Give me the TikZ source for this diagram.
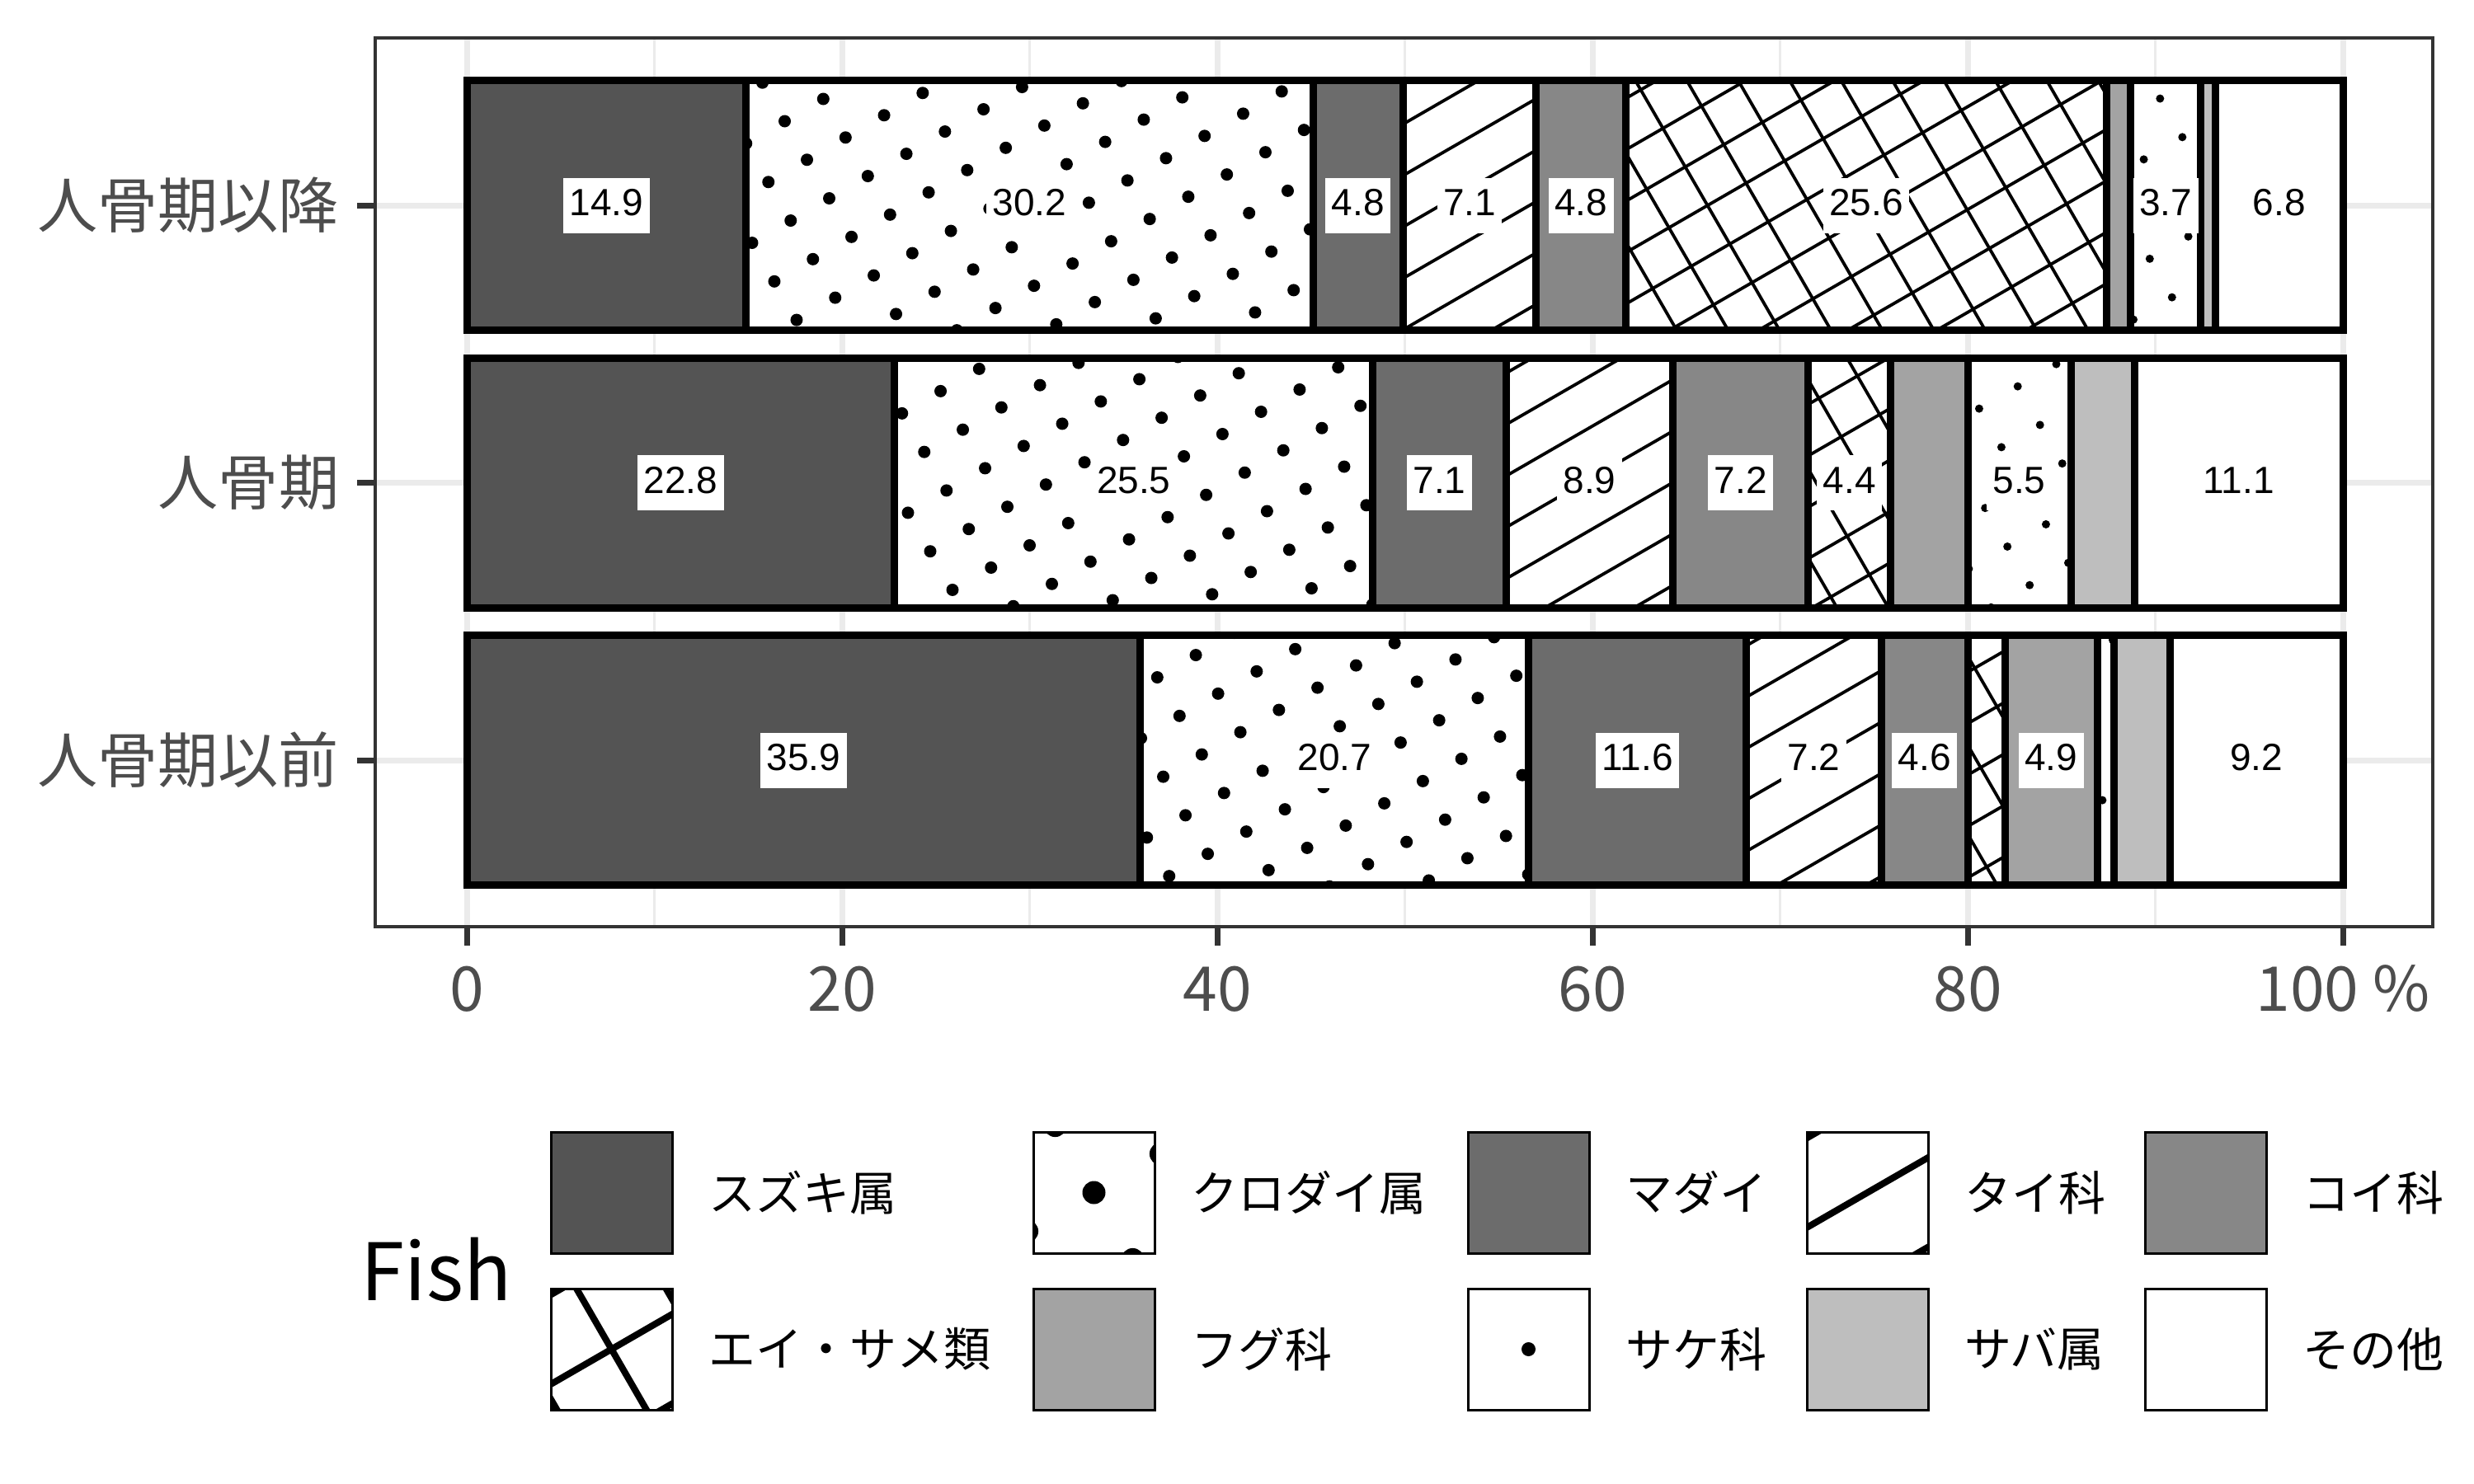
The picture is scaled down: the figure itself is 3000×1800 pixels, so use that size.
\documentclass[tikz,border=0pt]{standalone}
\usepackage{fontspec}
\newfontfamily\jpf{Noto Sans CJK JP}
\newfontfamily\labf{Liberation Sans}
\definecolor{cA}{HTML}{545454}
\definecolor{cC}{HTML}{6C6C6C}
\definecolor{cE}{HTML}{878787}
\definecolor{cG}{HTML}{A3A3A3}
\definecolor{cI}{HTML}{BEBEBE}
\definecolor{gridc}{HTML}{EBEBEB}
\definecolor{axc}{HTML}{333333}
\definecolor{txtc}{HTML}{4D4D4D}

\newcommand\segbox[3]{%
  \pgfmathsetmacro\xa{566+22.75*#1}%
  \pgfmathsetmacro\xb{566+22.75*#2}%
  \pgfmathsetmacro\ya{#3-151.5}%
  \pgfmathsetmacro\yb{#3+151.5}}
\newcommand\segborder{\draw[line width=2.25pt] (\xa,\ya) rectangle (\xb,\yb);}
\newcommand\solidseg[4]{\segbox{#1}{#2}{#3}\fill[#4] (\xa,\ya) rectangle (\xb,\yb);\segborder}
\newcommand\whiteseg[3]{\segbox{#1}{#2}{#3}\fill[white] (\xa,\ya) rectangle (\xb,\yb);\segborder}
\newcommand\dotseg[4]{\segbox{#1}{#2}{#3}%
  \fill[white] (\xa,\ya) rectangle (\xb,\yb);
  \begin{scope}
  \clip (\xa,\ya) rectangle (\xb,\yb);
  \pgfmathtruncatemacro\mmin{floor(0.009259*(\xa-998.3)+0.016039*(\ya-120))-1}
  \pgfmathtruncatemacro\mmax{ceil(0.009259*(\xb-998.3)+0.016039*(\yb-120))+1}
  \pgfmathtruncatemacro\nmin{floor(0.016039*(\xa-998.3)-0.009259*(\yb-120))-1}
  \pgfmathtruncatemacro\nmax{ceil(0.016039*(\xb-998.3)-0.009259*(\ya-120))+1}
  \foreach \ii in {\mmin,...,\mmax}{\foreach \jj in {\nmin,...,\nmax}{
    \fill ({998.3+27*\ii+46.77*\jj},{120+46.77*\ii-27*\jj}) circle[radius=#4];}}
  \end{scope}\segborder}
\newcommand\famA{%
  \pgfmathtruncatemacro\kmin{floor((0.5*\xa+0.866*\ya-603.07)/54)-1}
  \pgfmathtruncatemacro\kmax{ceil((0.5*\xb+0.866*\yb-603.07)/54)+1}
  \foreach \kk in {\kmin,...,\kmax}{
    \pgfmathsetmacro\cc{603.07+54*\kk}
    \draw[line width=0.95pt] ({\xa-20},{(\cc-0.5*(\xa-20))/0.866}) -- ({\xb+20},{(\cc-0.5*(\xb+20))/0.866});}}
\newcommand\famB{%
  \pgfmathtruncatemacro\kmin{floor((0.866*\xa-0.5*\yb-804.5)/54)-1}
  \pgfmathtruncatemacro\kmax{ceil((0.866*\xb-0.5*\ya-804.5)/54)+1}
  \foreach \kk in {\kmin,...,\kmax}{
    \pgfmathsetmacro\cc{804.5+54*\kk}
    \draw[line width=0.95pt] ({(\cc+0.5*(\ya-20))/0.866},{\ya-20}) -- ({(\cc+0.5*(\yb+20))/0.866},{\yb+20});}}
\newcommand\stripeseg[3]{\segbox{#1}{#2}{#3}\fill[white] (\xa,\ya) rectangle (\xb,\yb);
  \begin{scope}\clip (\xa,\ya) rectangle (\xb,\yb);\famA\end{scope}\segborder}
\newcommand\crossseg[3]{\segbox{#1}{#2}{#3}\fill[white] (\xa,\ya) rectangle (\xb,\yb);
  \begin{scope}\clip (\xa,\ya) rectangle (\xb,\yb);\famA\famB\end{scope}\segborder}

\tikzset{
  vlab/.style={fill=white, inner xsep=1.875pt, inner ysep=0pt, minimum height=16.75pt,
    text height=8.25pt, text depth=2pt, font=\labf\fontsize{11.5pt}{11.5pt}\selectfont},
  ylab/.style={anchor=east, inner sep=0pt, text=txtc, font=\jpf\fontsize{18.3pt}{18.3pt}\selectfont},
  xlab/.style={anchor=base, inner sep=0pt, text=txtc, font=\jpf\fontsize{18.75pt}{18.75pt}\selectfont},
  legtxt/.style={anchor=west, inner sep=0pt, text=black, font=\jpf\fontsize{14.25pt}{14.25pt}\selectfont},
  keybox/.style={line width=0.75pt, draw=black},
  keyline/.style={line width=2pt},
  gridmaj/.style={gridc, line width=1.75pt},
  gridmin/.style={gridc, line width=0.875pt},
  tickln/.style={axc, line width=1.75pt},
}
\newcommand\vl[4]{\node[vlab] (#4) at ({566+22.75*#1},#2) {#3};}

\begin{document}
\begin{tikzpicture}[x=0.25pt,y=-0.25pt]
\useasboundingbox (0,0) rectangle (3000,1800);
\fill[white] (0,0) rectangle (3000,1800);

% grid
\foreach \p in {10,30,50,70,90} \draw[gridmin] ({566+22.75*\p},46) -- ({566+22.75*\p},1124);
\foreach \p in {0,20,40,60,80,100} \draw[gridmaj] ({566+22.75*\p},46) -- ({566+22.75*\p},1124);
\foreach \y in {249,585.5,922} \draw[gridmaj] (455,\y) -- (2950,\y);

% top bar
\solidseg{0}{14.9}{249}{cA}
\dotseg{14.9}{45.1}{249}{1.875pt}
\solidseg{45.1}{49.9}{249}{cC}
\stripeseg{49.9}{57.0}{249}
\solidseg{57.0}{61.8}{249}{cE}
\crossseg{61.8}{87.4}{249}
\solidseg{87.4}{88.7}{249}{cG}
\dotseg{88.7}{92.4}{249}{1.25pt}
\solidseg{92.4}{93.2}{249}{cI}
\whiteseg{93.2}{100}{249}
% middle bar
\solidseg{0}{22.8}{585.5}{cA}
\dotseg{22.8}{48.3}{585.5}{1.875pt}
\solidseg{48.3}{55.4}{585.5}{cC}
\stripeseg{55.4}{64.3}{585.5}
\solidseg{64.3}{71.5}{585.5}{cE}
\crossseg{71.5}{75.9}{585.5}
\solidseg{75.9}{80.0}{585.5}{cG}
\dotseg{80.0}{85.5}{585.5}{1.25pt}
\solidseg{85.5}{88.9}{585.5}{cI}
\whiteseg{88.9}{100}{585.5}
% bottom bar
\solidseg{0}{35.9}{922}{cA}
\dotseg{35.9}{56.6}{922}{1.875pt}
\solidseg{56.6}{68.2}{922}{cC}
\stripeseg{68.2}{75.4}{922}
\solidseg{75.4}{80.0}{922}{cE}
\crossseg{80.0}{82.0}{922}
\solidseg{82.0}{86.9}{922}{cG}
\dotseg{86.9}{87.8}{922}{1.25pt}
\solidseg{87.8}{90.8}{922}{cI}
\whiteseg{90.8}{100}{922}

% value labels
\vl{7.45}{249}{14.9}{a1}
\vl{30.0}{249}{30.2}{a2}
\vl{47.5}{249}{4.8}{a3}
\vl{53.45}{249}{7.1}{a4}
\vl{59.4}{249}{4.8}{a5}
\vl{74.6}{249}{25.6}{a6}
\vl{90.55}{249}{3.7}{a7}
\vl{96.6}{249}{6.8}{a8}
\vl{11.4}{585.5}{22.8}{b1}
\vl{35.55}{585.5}{25.5}{b2}
\vl{51.85}{585.5}{7.1}{b3}
\vl{59.85}{585.5}{8.9}{b4}
\vl{67.9}{585.5}{7.2}{b5}
\vl{73.7}{585.5}{4.4}{b6}
\vl{82.75}{585.5}{5.5}{b7}
\vl{94.45}{585.5}{11.1}{b8}
\vl{17.95}{922}{35.9}{c1}
\vl{46.25}{922}{20.7}{c2}
\vl{62.4}{922}{11.6}{c3}
\vl{71.8}{922}{7.2}{c4}
\vl{77.7}{922}{4.6}{c5}
\vl{84.45}{922}{4.9}{c6}
\vl{95.4}{922}{9.2}{c7}

% panel border and ticks
\draw[axc, line width=1pt] (455,46) rectangle (2950,1124);
\foreach \y in {249,585.5,922} \draw[tickln] (433,\y) -- (455,\y);
\foreach \p in {0,20,40,60,80,100} \draw[tickln] ({566+22.75*\p},1124) -- ({566+22.75*\p},1147);

% axis labels
\node[ylab] (y1) at (412,249) {人骨期以降};
\node[ylab] (y2) at (412,585.5) {人骨期};
\node[ylab] (y3) at (412,922) {人骨期以前};
\node[xlab] (x0) at (566,1226) {0};
\node[xlab] (x20) at (1021,1226) {20};
\node[xlab] (x40) at (1476,1226) {40};
\node[xlab] (x60) at (1931,1226) {60};
\node[xlab] (x80) at (2386,1226) {80};
\node[xlab] (x100) at (2841,1226) {100 \%};

% legend
\node[anchor=base west, inner sep=0pt, font=\jpf\fontsize{24pt}{24pt}\selectfont] (ft) at (437,1577) {Fish};
% row 1
\fill[cA] (668,1373) rectangle (815,1520); \draw[keybox] (668,1373) rectangle (815,1520);
\fill[white] (1253,1373) rectangle (1400,1520);
\begin{scope}\clip (1253,1373) rectangle (1400,1520);
  \foreach \ii in {-1,0,1}{\foreach \jj in {-1,0,1}{
    \fill ({1326.5+47*\ii+81.4*\jj},{1446.5+81.4*\ii-47*\jj}) circle[radius=3.5pt];}}
\end{scope}
\draw[keybox] (1253,1373) rectangle (1400,1520);
\fill[cC] (1780,1373) rectangle (1927,1520); \draw[keybox] (1780,1373) rectangle (1927,1520);
\fill[white] (2191,1373) rectangle (2338,1520);
\begin{scope}\clip (2191,1373) rectangle (2338,1520);
  \foreach \ii in {-1,0,1}{
    \draw[keyline] ({2264.5+47*\ii-150*0.866},{1446.5+81.4*\ii+150*0.5}) -- ({2264.5+47*\ii+150*0.866},{1446.5+81.4*\ii-150*0.5});}
\end{scope}
\draw[keybox] (2191,1373) rectangle (2338,1520);
\fill[cE] (2601,1373) rectangle (2748,1520); \draw[keybox] (2601,1373) rectangle (2748,1520);
% row 2
\fill[white] (668,1563) rectangle (815,1710);
\begin{scope}\clip (668,1563) rectangle (815,1710);
  \foreach \ii in {-1,0,1}{
    \draw[keyline] ({741.5+47*\ii-150*0.866},{1636.5+81.4*\ii+150*0.5}) -- ({741.5+47*\ii+150*0.866},{1636.5+81.4*\ii-150*0.5});
    \draw[keyline] ({741.5+81.4*\ii-150*0.5},{1636.5-47*\ii-150*0.866}) -- ({741.5+81.4*\ii+150*0.5},{1636.5-47*\ii+150*0.866});}
\end{scope}
\draw[keybox] (668,1563) rectangle (815,1710);
\fill[cG] (1253,1563) rectangle (1400,1710); \draw[keybox] (1253,1563) rectangle (1400,1710);
\fill[white] (1780,1563) rectangle (1927,1710);
\fill (1853.5,1636.5) circle[radius=2.125pt];
\draw[keybox] (1780,1563) rectangle (1927,1710);
\fill[cI] (2191,1563) rectangle (2338,1710); \draw[keybox] (2191,1563) rectangle (2338,1710);
\fill[white] (2601,1563) rectangle (2748,1710); \draw[keybox] (2601,1563) rectangle (2748,1710);

\node[legtxt] (l1) at (859,1446.5) {スズキ属};
\node[legtxt] (l2) at (1444,1446.5) {クロダイ属};
\node[legtxt] (l3) at (1971,1446.5) {マダイ};
\node[legtxt] (l4) at (2382,1446.5) {タイ科};
\node[legtxt] (l5) at (2792,1446.5) {コイ科};
\node[legtxt] (l6) at (859,1636.5) {エイ・サメ類};
\node[legtxt] (l7) at (1444,1636.5) {フグ科};
\node[legtxt] (l8) at (1971,1636.5) {サケ科};
\node[legtxt] (l9) at (2382,1636.5) {サバ属};
\node[legtxt] (l10) at (2792,1636.5) {その他};
\end{tikzpicture}
\end{document}
